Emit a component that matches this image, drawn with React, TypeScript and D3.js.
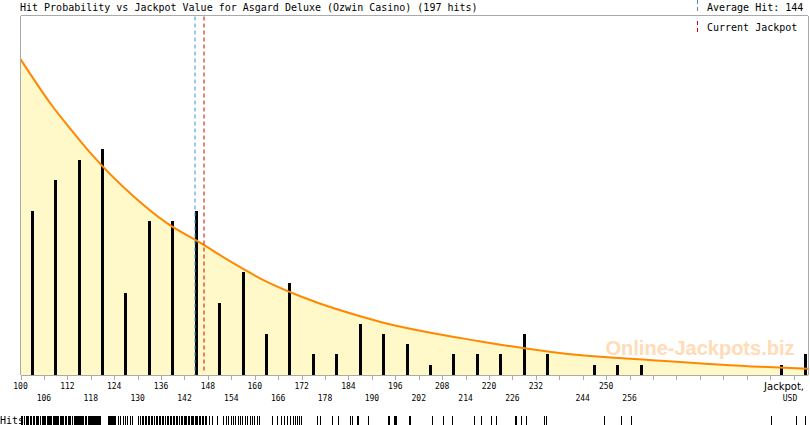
import * as d3 from "d3";

// hits per 6-unit jackpot bin, starting at 100
const binStarts = [100, 106, 112, 118, 124, 130, 136, 142, 148, 154, 160, 166, 172, 178, 184, 190, 196, 202, 208, 214, 220, 226, 232, 238, 244, 250, 256, 262, 268, 274, 280, 286, 292, 298];
const binCounts = [16, 19, 21, 22, 8, 15, 15, 16, 7, 10, 4, 9, 2, 2, 5, 4, 3, 1, 2, 2, 2, 4, 2, 0, 1, 1, 1, 0, 0, 0, 0, 0, 1, 2];

// fitted probability curve (in bar units)
const curveJackpot = [100, 108, 113, 118, 129, 137.5, 146, 154.5, 163, 171.5, 192, 217.5, 238, 264, 289.5, 301.7];
const curveLevel = [30.8, 26.3, 23.9, 21.6, 17.4, 14.8, 12.9, 10.9, 9.1, 7.7, 5.2, 3.3, 2.15, 1.4, 0.8, 0.6];

// individual hits for the rug
const hitValues = [
  100.2, 100.5, 100.9, 101.3, 101.6, 102.0, 102.4, 102.7, 103.1, 103.5, 103.9, 104.2, 104.6, 105.0, 105.4, 105.8,
  106.1, 106.4, 106.7, 107.0, 107.3, 107.6, 107.9, 108.2, 108.5, 108.8, 109.1, 109.4, 109.7, 110.0, 110.3, 110.6, 110.9, 111.3, 111.7,
  112.2, 112.5, 112.8, 113.1, 113.3, 113.6, 113.9, 114.2, 114.4, 114.7, 115.0, 115.3, 115.5, 115.8, 116.1, 116.4, 116.6, 116.9, 117.2, 117.5, 117.8,
  118.1, 118.3, 118.5, 118.7, 118.9, 119.1, 119.3, 119.5, 119.7, 119.9, 120.1, 120.3, 122.4, 122.6, 122.8, 123.0, 123.2, 123.4, 123.6, 123.7, 123.8, 123.9,
  124.3, 124.9, 125.6, 126.2, 126.8, 127.4, 128.0, 128.5,
  130.2, 130.6, 131.0, 131.4, 131.8, 132.2, 132.6, 133.0, 133.4, 133.8, 134.2, 134.6, 135.0, 135.4, 135.8,
  136.2, 136.6, 137.0, 137.4, 137.8, 138.2, 138.6, 139.0, 139.4, 139.8, 140.2, 140.6, 141.0, 141.4, 141.8,
  142.2, 142.5, 142.9, 143.2, 143.6, 143.9, 144.3, 144.6, 145.0, 145.3, 145.7, 146.0, 146.4, 146.8, 147.2, 147.6,
  148.3, 149.0, 150.4, 151.8, 152.6, 153.2, 153.8,
  154.3, 154.9, 155.6, 156.2, 156.8, 157.5, 158.1, 158.8, 159.3, 159.8,
  160.5, 161.2, 164.3, 165.6,
  166.6, 167.5, 168.3, 168.9, 169.7, 170.3, 170.9, 171.3, 171.8,
  175.9, 176.7, 179.7, 181.4,
  184.3, 185.0, 186.1, 186.5, 188.9,
  194.0, 194.3, 195.7, 195.9,
  196.2, 199.5, 199.7, 205.3, 208.3, 210.4, 216.1, 218.0, 220.6, 221.7,
  226.6, 226.8, 228.3, 229.5, 234.0, 234.5, 249.4, 253.7, 256.3, 292.3, 298.5, 300.9,
];

const tickValues = [100, 106, 112, 118, 124, 130, 136, 142, 148, 154, 160, 166, 172, 178, 184, 190, 196, 202, 208, 214, 220, 226, 232, 238, 244, 250, 256, 262, 268, 274, 280, 286, 292, 298];
// labels alternate between two rows; 238 is left unlabelled in the original
const upperLabels = [100, 112, 124, 136, 148, 160, 172, 184, 196, 208, 220, 232, 250];
const lowerLabels = [106, 118, 130, 142, 154, 166, 178, 190, 202, 214, 226, 244, 256];

const averageHit = 144.7;
const currentJackpot = 147.0;
const gameName = "Asgard Deluxe (Ozwin Casino)";

const W = 810;
const H = 425;
const plot = { left: 20.5, right: 808, top: 15.5, bottom: 375 };
const mono = "'DejaVu Sans Mono', monospace";

export default function App() {
  const x = d3.scaleLinear().domain([100, 301.7]).range([plot.left, plot.right]);
  const y = d3.scaleLinear().domain([0, 35]).range([plot.bottom, plot.top + 0.5]);

  const pts: [number, number][] = curveJackpot.map((v, i) => [v, curveLevel[i]]);
  const line = d3
    .line<[number, number]>()
    .x((d) => x(d[0]))
    .y((d) => y(d[1]))
    .curve(d3.curveMonotoneX);
  const area = d3
    .area<[number, number]>()
    .x((d) => x(d[0]))
    .y0(y(0))
    .y1((d) => y(d[1]))
    .curve(d3.curveMonotoneX);

  return (
    <svg
      width={W}
      height={H}
      style={{ position: "fixed", left: 0, top: 0, background: "#fff" }}
    >
      {/* title + legend */}
      <text x={20} y={11} fontFamily={mono} fontSize={10} fill="#000">
        {`Hit Probability vs Jackpot Value for ${gameName} (${hitValues.length} hits)`}
      </text>
      <line x1={697.5} x2={697.5} y1={0} y2={12} stroke="#3f8fd2" strokeDasharray="4 3" />
      <text x={707} y={11} fontFamily={mono} fontSize={10}>
        {`Average Hit: ${Math.floor(averageHit)}`}
      </text>

      {/* probability area */}
      <path d={area(pts) ?? ""} fill="#fff8c8" />

      {/* bars */}
      {binCounts.map((c, i) =>
        c > 0 ? (
          <rect
            key={i}
            x={Math.min(x(binStarts[i] + 3), plot.right - 1) - 1.5}
            y={y(c)}
            width={3}
            height={y(0) - y(c)}
            fill="#000"
            shapeRendering="crispEdges"
          />
        ) : null
      )}

      <path d={line(pts) ?? ""} fill="none" stroke="#ff8800" strokeWidth={2} />

      {/* average & current jackpot */}
      <line
        x1={x(averageHit)}
        x2={x(averageHit)}
        y1={plot.top + 1}
        y2={plot.bottom}
        stroke="#3f8fd2"
        strokeDasharray="4 3"
      />
      <line
        x1={x(currentJackpot)}
        x2={x(currentJackpot)}
        y1={plot.top + 1}
        y2={plot.bottom - 3}
        stroke="#dd0000"
        strokeDasharray="4 3"
      />

      <text
        x={700}
        y={355}
        textAnchor="middle"
        fontFamily="'Liberation Sans', Arial, sans-serif"
        fontWeight="bold"
        fontSize={20}
        fill="#ffcf9e"
        opacity={0.75}
      >
        Online-Jackpots.biz
      </text>

      {/* frame */}
      <g stroke="#aaa" fill="none" shapeRendering="crispEdges">
        <line x1={plot.left} x2={plot.right} y1={plot.top} y2={plot.top} />
        <line x1={plot.left} x2={plot.left} y1={plot.top} y2={plot.bottom} />
        <line x1={plot.right} x2={plot.right} y1={plot.top} y2={plot.bottom} />
        <line x1={plot.left} x2={plot.right} y1={plot.bottom + 0.5} y2={plot.bottom + 0.5} />
        {tickValues.map((t) => (
          <line key={t} x1={Math.round(x(t)) + 0.5} x2={Math.round(x(t)) + 0.5} y1={plot.bottom + 1} y2={plot.bottom + 5} />
        ))}
      </g>

      <line x1={697.5} x2={697.5} y1={21} y2={33} stroke="#dd0000" strokeDasharray="4 3" />
      <text x={707} y={31} fontFamily={mono} fontSize={10}>
        Current Jackpot
      </text>

      {/* tick labels, two rows */}
      {upperLabels.map((t) => (
        <text key={t} x={x(t)} y={389} textAnchor="middle" fontFamily={mono} fontSize={8}>
          {t}
        </text>
      ))}
      {lowerLabels.map((t) => (
        <text key={t} x={x(t)} y={401} textAnchor="middle" fontFamily={mono} fontSize={8}>
          {t}
        </text>
      ))}
      <text x={804} y={390} textAnchor="end" fontFamily="'DejaVu Sans', sans-serif" fontSize={10}>
        Jackpot,
      </text>
      <text x={790} y={401} textAnchor="middle" fontFamily={mono} fontSize={8}>
        USD
      </text>

      {/* rug of individual hits */}
      <text x={0} y={424} fontFamily={mono} fontSize={10}>
        Hits
      </text>
      <g stroke="#000" shapeRendering="crispEdges">
        {hitValues.map((v, i) => (
          <line key={i} x1={Math.round(x(v)) + 0.5} x2={Math.round(x(v)) + 0.5} y1={416} y2={H} />
        ))}
      </g>
    </svg>
  );
}
